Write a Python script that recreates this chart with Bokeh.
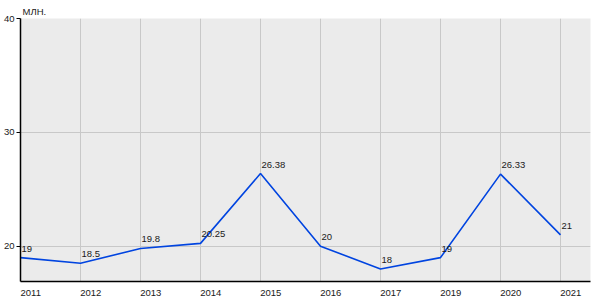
from bokeh.plotting import figure
from bokeh.models import (Range1d, LinearAxis, FixedTicker, Grid, ColumnDataSource)
from bokeh.core.properties import value
from bokeh.embed import file_html
from bokeh.resources import INLINE

years = ["2011", "2012", "2013", "2014", "2015", "2016", "2017", "2019", "2020", "2021"]
values = [19, 18.5, 19.8, 20.25, 26.38, 20, 18, 19, 26.33, 21]
point_labels = ["19", "18.5", "19.8", "20.25", "26.38", "20", "18", "19", "26.33", "21"]
y_ticks = [20, 30, 40]
unit_label = "МЛН."

idx = list(range(len(years)))
FONT = "Liberation Sans"
TXT = "#1a1a1a"
FS = "9.5px"

p = figure(width=600, height=300, output_backend="svg", toolbar_location=None,
           x_range=Range1d(0, len(years) - 0.5), y_range=Range1d(16.9, 40),
           x_axis_location=None, y_axis_location=None,
           min_border_left=20, min_border_right=10, min_border_top=18, min_border_bottom=19,
           background_fill_color="#ebebeb", border_fill_color="white", outline_line_color=None)
for g in p.select(type=Grid):
    g.visible = False
    g.grid_line_color = None
p.center = []

p.title.text = unit_label
p.title.align = "left"
p.title.offset = 2
p.title.standoff = 4
p.title.text_font = FONT
p.title.text_font_size = FS
p.title.text_font_style = "normal"
p.title.text_color = TXT

# label-offset range so x tick labels start at the tick position
p.extra_x_ranges = {"lab": Range1d(-0.17, len(years) - 0.5 - 0.17)}

xaxis = LinearAxis(x_range_name="lab", ticker=FixedTicker(ticks=idx),
                   major_label_overrides={i: y for i, y in zip(idx, years)})
xaxis.axis_line_color = "black"
xaxis.axis_line_width = 1.5
xaxis.major_tick_line_color = None
xaxis.minor_tick_line_color = None
xaxis.major_label_standoff = 2
xaxis.major_label_text_font = FONT
xaxis.major_label_text_font_size = FS
xaxis.major_label_text_color = TXT
p.add_layout(xaxis, "below")

yaxis = LinearAxis(ticker=FixedTicker(ticks=y_ticks))
yaxis.axis_line_color = "black"
yaxis.axis_line_width = 1.5
yaxis.major_tick_line_color = "black"
yaxis.major_tick_in = 0
yaxis.major_tick_out = 4
yaxis.minor_tick_line_color = None
yaxis.major_label_standoff = 2
yaxis.major_label_text_font = FONT
yaxis.major_label_text_font_size = FS
yaxis.major_label_text_color = TXT
p.add_layout(yaxis, "left")

p.add_layout(Grid(dimension=0, ticker=FixedTicker(ticks=idx), grid_line_color="#c8c8c8"))
p.add_layout(Grid(dimension=1, ticker=FixedTicker(ticks=y_ticks), grid_line_color="#c8c8c8"))

src = ColumnDataSource(dict(x=idx, y=values, t=point_labels))
p.line("x", "y", source=src, line_color="#0044e0", line_width=1.6)
p.text("x", "y", text="t", source=src, x_offset=1, y_offset=-6,
       text_align="left", text_baseline="bottom", text_font=value(FONT),
       text_font_size=FS, text_color=TXT)

open("out.html", "w").write(file_html(p, INLINE))
